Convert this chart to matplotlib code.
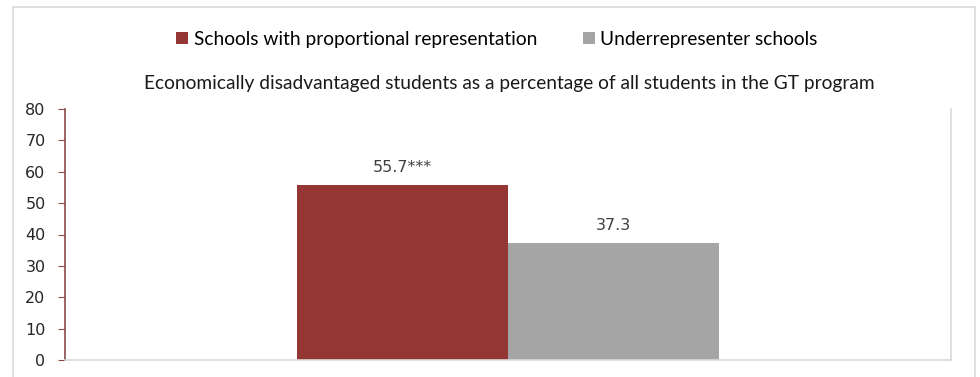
import matplotlib.pyplot as plt
from matplotlib.patches import Rectangle
import numpy as np

# Data
series_names = ["Schools with proportional representation", "Underrepresenter schools"]
series_values = [55.7, 37.3]
value_labels = ["55.7***", "37.3"]
colors = ["#943634", "#A5A5A5"]
y_ticks = [0, 10, 20, 30, 40, 50, 60, 70, 80]
title = "Economically disadvantaged students as a percentage of all students in the GT program"

fig = plt.figure(figsize=(9.8, 3.77), dpi=100)
fig.patch.set_facecolor("white")

# Outer chart frame
fig.patches.append(Rectangle((13 / 980, -0.01), (975 - 13) / 980, 1 - 7 / 377 + 0.01,
                             transform=fig.transFigure, fill=False,
                             edgecolor="#D9D9D9", linewidth=1.2))

ax = fig.add_axes([65 / 980, 17 / 377, 886 / 980, 251 / 377])

bar_width = 0.238
x = np.array([0.0])
offsets = [-bar_width / 2, bar_width / 2]
for name, val, lab, col, off in zip(series_names, series_values, value_labels, colors, offsets):
    ax.bar(x + off, [val], width=bar_width, color=col, label=name)
    ax.text(x[0] + off, val + 3.3, lab, ha="center", va="bottom",
            fontsize=11.5, color="#404040", family="DejaVu Sans")

ax.set_xlim(-0.5, 0.5)
ax.set_ylim(0, 80)
ax.set_yticks(y_ticks)
ax.set_xticks([])
ax.tick_params(axis="y", direction="out", length=5, color="#8B4A4A",
               labelsize=11.5, labelcolor="#262626", pad=9)

ax.spines["top"].set_visible(False)
ax.spines["left"].set_color("#8B4A4A")
ax.spines["left"].set_linewidth(1.2)
ax.spines["bottom"].set_color("#D9D9D9")
ax.spines["bottom"].set_linewidth(1.2)
ax.spines["right"].set_color("#D9D9D9")
ax.spines["right"].set_linewidth(1.2)

fig.text(509 / 980, 1 - 83 / 377, title, ha="center", va="center",
         fontsize=13.8, family="Lato", color="#1a1a1a")

handles, labels = ax.get_legend_handles_labels()
fig.legend(handles, labels, loc="center", bbox_to_anchor=(497 / 980, 1 - 39 / 377),
           ncol=2, frameon=False, prop={"family": "Lato", "size": 13.8},
           handlelength=0.6, handleheight=0.6, handletextpad=0.3, columnspacing=2.4)

plt.savefig("out.png", dpi=100)
plt.close()
